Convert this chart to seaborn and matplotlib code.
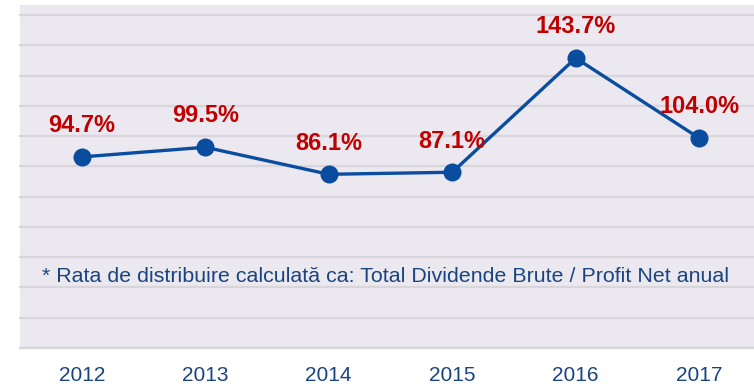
import matplotlib
matplotlib.use("Agg")
import matplotlib.pyplot as plt
import seaborn as sns
import pandas as pd

years = ["2012", "2013", "2014", "2015", "2016", "2017"]
payout_ratio = [94.7, 99.5, 86.1, 87.1, 143.7, 104.0]
value_labels = ["94.7%", "99.5%", "86.1%", "87.1%", "143.7%", "104.0%"]
footnote = "* Rata de distribuire calculată ca: Total Dividende Brute / Profit Net anual"

df = pd.DataFrame({"pos": range(len(years)), "ratio": payout_ratio})

plt.rcParams["font.family"] = ["Liberation Sans", "DejaVu Sans"]

W, H = 754, 385
fig = plt.figure(figsize=(W / 100, H / 100), dpi=100)
left, right, top, bottom = 20, 761, 5, 348
ax = fig.add_axes([left / W, (H - bottom) / H, (right - left) / W, (bottom - top) / H])

ax.set_facecolor("#EBE9EF")
for y in range(0, 170, 15):
    ax.axhline(y, color="#D8D6DB", lw=1.6, zorder=1, clip_on=False)

line_color = "#0A4C9E"
sns.lineplot(data=df, x="pos", y="ratio", ax=ax, color=line_color, lw=2.4,
             marker="o", markersize=13, markeredgewidth=0, zorder=3)

for i, (v, lab) in enumerate(zip(payout_ratio, value_labels)):
    ax.annotate(lab, (i, v), xytext=(0, 22.5), textcoords="offset points",
                ha="center", va="center", fontsize=17, fontweight="bold",
                color="#C00000", zorder=4)

ax.text(42 / W, (H - 277) / H, footnote, transform=fig.transFigure,
        ha="left", va="center", fontsize=15.4, color="#1A4480", zorder=4)

ax.set_xlim(-0.5, 5.5)
ax.set_ylim(0, 170)
ax.set_xticks(range(len(years)))
ax.set_xticklabels(years)
ax.tick_params(axis="x", length=0, pad=13, labelsize=15, labelcolor="#1A4480")
ax.set_yticks([])
ax.set_xlabel("")
ax.set_ylabel("")
for s in ax.spines.values():
    s.set_visible(False)

fig.savefig("out.png", dpi=100)
